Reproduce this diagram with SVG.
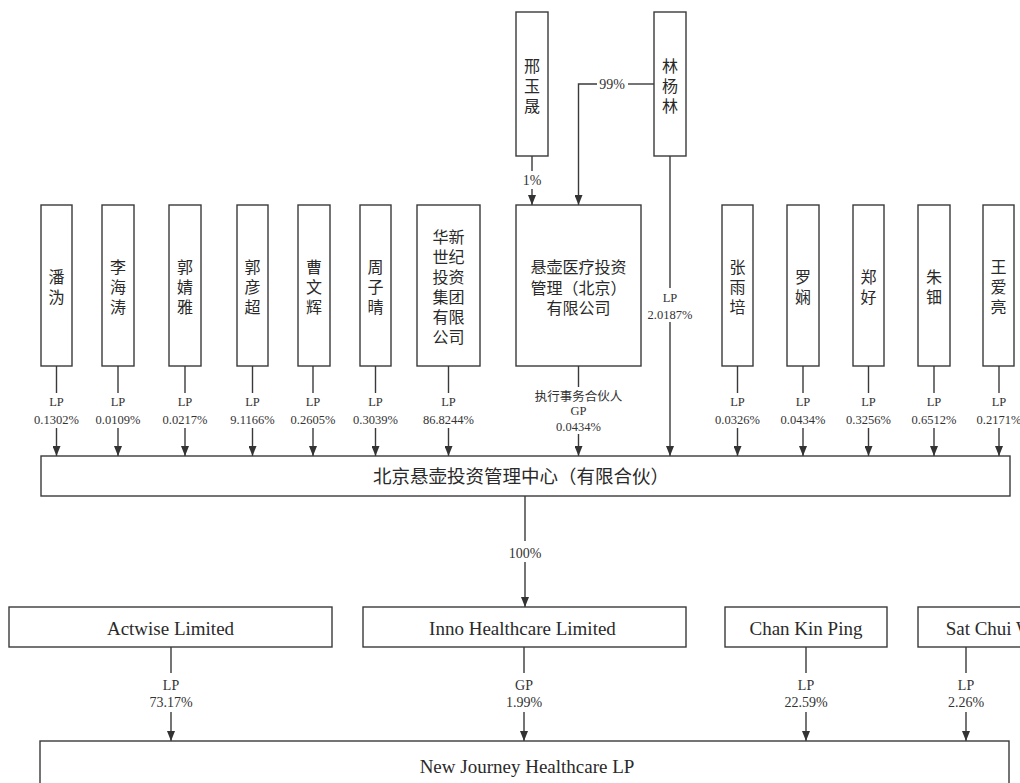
<svg xmlns="http://www.w3.org/2000/svg" width="1020" height="783" viewBox="0 0 1020 783">
<defs>
<marker id="arr" markerUnits="userSpaceOnUse" markerWidth="10" markerHeight="8" refX="10" refY="4" orient="auto">
<path d="M0,0 L10,4 L0,8 z" fill="#333"/>
</marker>
<style>
rect.n{fill:#fff;stroke:#3a3a3a;stroke-width:1.4}
.c line,.c path{stroke:#3a3a3a;stroke-width:1.4;fill:none}
.cj{font-family:"Liberation Serif","Noto Sans CJK SC",serif;font-size:16px;fill:#2a2a2a;text-anchor:middle}
.big{font-family:"Liberation Serif","Noto Sans CJK SC",serif;font-size:18.5px;fill:#2a2a2a;text-anchor:middle}
.en{font-family:"Liberation Serif","Noto Sans CJK SC",serif;font-size:19px;fill:#2a2a2a;text-anchor:middle}
.lb{font-family:"Liberation Serif","Noto Sans CJK SC",serif;font-size:12.5px;fill:#333;text-anchor:middle}
.lb2{font-family:"Liberation Serif","Noto Sans CJK SC",serif;font-size:14px;fill:#333;text-anchor:middle}
</style>
</defs>
<rect width="1020" height="783" fill="#fff"/>

<g class="c" id="connectors">
<line x1="56.5" y1="366" x2="56.5" y2="393"/><line x1="56.5" y1="428" x2="56.5" y2="456" marker-end="url(#arr)"/>
<line x1="118" y1="366" x2="118" y2="393"/><line x1="118" y1="428" x2="118" y2="456" marker-end="url(#arr)"/>
<line x1="185" y1="366" x2="185" y2="393"/><line x1="185" y1="428" x2="185" y2="456" marker-end="url(#arr)"/>
<line x1="252.5" y1="366" x2="252.5" y2="393"/><line x1="252.5" y1="428" x2="252.5" y2="456" marker-end="url(#arr)"/>
<line x1="313" y1="366" x2="313" y2="393"/><line x1="313" y1="428" x2="313" y2="456" marker-end="url(#arr)"/>
<line x1="375.5" y1="366" x2="375.5" y2="393"/><line x1="375.5" y1="428" x2="375.5" y2="456" marker-end="url(#arr)"/>
<line x1="448.5" y1="366" x2="448.5" y2="393"/><line x1="448.5" y1="428" x2="448.5" y2="456" marker-end="url(#arr)"/>
<line x1="578.5" y1="366" x2="578.5" y2="387"/><line x1="578.5" y1="434" x2="578.5" y2="456" marker-end="url(#arr)"/>
<line x1="670" y1="156" x2="670" y2="288"/><line x1="670" y1="322" x2="670" y2="456" marker-end="url(#arr)"/>
<line x1="737.5" y1="366" x2="737.5" y2="393"/><line x1="737.5" y1="428" x2="737.5" y2="456" marker-end="url(#arr)"/>
<line x1="803" y1="366" x2="803" y2="393"/><line x1="803" y1="428" x2="803" y2="456" marker-end="url(#arr)"/>
<line x1="868.5" y1="366" x2="868.5" y2="393"/><line x1="868.5" y1="428" x2="868.5" y2="456" marker-end="url(#arr)"/>
<line x1="934" y1="366" x2="934" y2="393"/><line x1="934" y1="428" x2="934" y2="456" marker-end="url(#arr)"/>
<line x1="999" y1="366" x2="999" y2="393"/><line x1="999" y1="428" x2="999" y2="456" marker-end="url(#arr)"/>
<line x1="532" y1="156" x2="532" y2="171"/><line x1="532" y1="189" x2="532" y2="205" marker-end="url(#arr)"/>
<line x1="654" y1="84" x2="628" y2="84"/><path d="M597,84 H578.5 V205" marker-end="url(#arr)"/>
<line x1="525" y1="496" x2="525" y2="541"/><line x1="525" y1="562" x2="525" y2="607" marker-end="url(#arr)"/>
<line x1="171" y1="647" x2="171" y2="673"/><line x1="171" y1="712" x2="171" y2="741" marker-end="url(#arr)"/>
<line x1="524" y1="647" x2="524" y2="673"/><line x1="524" y1="712" x2="524" y2="741" marker-end="url(#arr)"/>
<line x1="806" y1="647" x2="806" y2="673"/><line x1="806" y1="712" x2="806" y2="741" marker-end="url(#arr)"/>
<line x1="966" y1="647" x2="966" y2="673"/><line x1="966" y1="712" x2="966" y2="741" marker-end="url(#arr)"/>
</g>

<g id="labels">
<text class="lb" x="56.5" y="406">LP</text><text class="lb" x="56.5" y="424">0.1302%</text>
<text class="lb" x="118" y="406">LP</text><text class="lb" x="118" y="424">0.0109%</text>
<text class="lb" x="185" y="406">LP</text><text class="lb" x="185" y="424">0.0217%</text>
<text class="lb" x="252.5" y="406">LP</text><text class="lb" x="252.5" y="424">9.1166%</text>
<text class="lb" x="313" y="406">LP</text><text class="lb" x="313" y="424">0.2605%</text>
<text class="lb" x="375.5" y="406">LP</text><text class="lb" x="375.5" y="424">0.3039%</text>
<text class="lb" x="448.5" y="406">LP</text><text class="lb" x="448.5" y="424">86.8244%</text>
<text class="lb" x="578.5" y="401">执行事务合伙人</text><text class="lb" x="578.5" y="415">GP</text><text class="lb" x="578.5" y="431">0.0434%</text>
<text class="lb" x="670" y="302">LP</text><text class="lb" x="670" y="319">2.0187%</text>
<text class="lb" x="737.5" y="406">LP</text><text class="lb" x="737.5" y="424">0.0326%</text>
<text class="lb" x="803" y="406">LP</text><text class="lb" x="803" y="424">0.0434%</text>
<text class="lb" x="868.5" y="406">LP</text><text class="lb" x="868.5" y="424">0.3256%</text>
<text class="lb" x="934" y="406">LP</text><text class="lb" x="934" y="424">0.6512%</text>
<text class="lb" x="999" y="406">LP</text><text class="lb" x="999" y="424">0.2171%</text>
<text class="lb2" x="532" y="185">1%</text>
<text class="lb2" x="612" y="89">99%</text>
<text class="lb2" x="525" y="558">100%</text>
<text class="lb2" x="171" y="690">LP</text><text class="lb2" x="171" y="707">73.17%</text>
<text class="lb2" x="524" y="690">GP</text><text class="lb2" x="524" y="707">1.99%</text>
<text class="lb2" x="806" y="690">LP</text><text class="lb2" x="806" y="707">22.59%</text>
<text class="lb2" x="966" y="690">LP</text><text class="lb2" x="966" y="707">2.26%</text>
</g>

<g id="n-xingyusheng"><rect class="n" x="516" y="12" width="32" height="144"/><text class="cj" x="532" y="72">邢</text><text class="cj" x="532" y="92">玉</text><text class="cj" x="532" y="112">晟</text></g>
<g id="n-linyanglin"><rect class="n" x="654" y="12" width="32" height="144"/><text class="cj" x="670" y="72">林</text><text class="cj" x="670" y="92">杨</text><text class="cj" x="670" y="112">林</text></g>

<g id="n-panwei"><rect class="n" x="41" y="205" width="31" height="161"/><text class="cj" x="56.5" y="283">潘</text><text class="cj" x="56.5" y="303">沩</text></g>
<g id="n-lihaitao"><rect class="n" x="102" y="205" width="32" height="161"/><text class="cj" x="118" y="273">李</text><text class="cj" x="118" y="293">海</text><text class="cj" x="118" y="313">涛</text></g>
<g id="n-guojingya"><rect class="n" x="169" y="205" width="32" height="161"/><text class="cj" x="185" y="273">郭</text><text class="cj" x="185" y="293">婧</text><text class="cj" x="185" y="313">雅</text></g>
<g id="n-guoyanchao"><rect class="n" x="237" y="205" width="31" height="161"/><text class="cj" x="252.5" y="273">郭</text><text class="cj" x="252.5" y="293">彦</text><text class="cj" x="252.5" y="313">超</text></g>
<g id="n-caowenhui"><rect class="n" x="298" y="205" width="32" height="161"/><text class="cj" x="314" y="273">曹</text><text class="cj" x="314" y="293">文</text><text class="cj" x="314" y="313">辉</text></g>
<g id="n-zhouziqing"><rect class="n" x="360" y="205" width="31" height="161"/><text class="cj" x="375.5" y="273">周</text><text class="cj" x="375.5" y="293">子</text><text class="cj" x="375.5" y="313">晴</text></g>
<g id="n-huaxin"><rect class="n" x="417" y="205" width="63" height="161"/>
<text class="cj" x="448.5" y="243">华新</text><text class="cj" x="448.5" y="263">世纪</text><text class="cj" x="448.5" y="283">投资</text><text class="cj" x="448.5" y="303">集团</text><text class="cj" x="448.5" y="323">有限</text><text class="cj" x="448.5" y="343">公司</text></g>
<g id="n-xuanhu"><rect class="n" x="516" y="205" width="125" height="161"/>
<text class="cj" x="578.5" y="273">悬壶医疗投资</text><text class="cj" x="578.5" y="294">管理（北京）</text><text class="cj" x="578.5" y="314">有限公司</text></g>
<g id="n-zhangyupei"><rect class="n" x="722" y="205" width="31" height="161"/><text class="cj" x="737.5" y="273">张</text><text class="cj" x="737.5" y="293">雨</text><text class="cj" x="737.5" y="313">培</text></g>
<g id="n-luoxian"><rect class="n" x="787" y="205" width="32" height="161"/><text class="cj" x="803" y="283">罗</text><text class="cj" x="803" y="303">娴</text></g>
<g id="n-zhenghao"><rect class="n" x="853" y="205" width="31" height="161"/><text class="cj" x="868.5" y="283">郑</text><text class="cj" x="868.5" y="303">好</text></g>
<g id="n-zhudian"><rect class="n" x="918" y="205" width="32" height="161"/><text class="cj" x="934" y="283">朱</text><text class="cj" x="934" y="303">钿</text></g>
<g id="n-wangailiang"><rect class="n" x="983" y="205" width="31" height="161"/><text class="cj" x="998.5" y="273">王</text><text class="cj" x="998.5" y="293">爱</text><text class="cj" x="998.5" y="313">亮</text></g>

<g id="n-center"><rect class="n" x="41" y="456" width="969" height="40"/><text class="big" x="521" y="483">北京悬壶投资管理中心（有限合伙）</text></g>

<g id="n-actwise"><rect class="n" x="9" y="607" width="323" height="40"/><text class="en" x="170.5" y="635">Actwise Limited</text></g>
<g id="n-inno"><rect class="n" x="363" y="607" width="323" height="40"/><text class="en" x="522.5" y="635">Inno Healthcare Limited</text></g>
<g id="n-chan"><rect class="n" x="725" y="607" width="162" height="40"/><text class="en" x="806" y="635">Chan Kin Ping</text></g>
<g id="n-sat"><rect class="n" x="918" y="607" width="160" height="40"/><text class="en" x="998" y="635">Sat Chui Wan</text></g>

<g id="n-newjourney"><rect class="n" x="40" y="741" width="969" height="60"/><text class="en" x="527" y="773">New Journey Healthcare LP</text></g>
</svg>
